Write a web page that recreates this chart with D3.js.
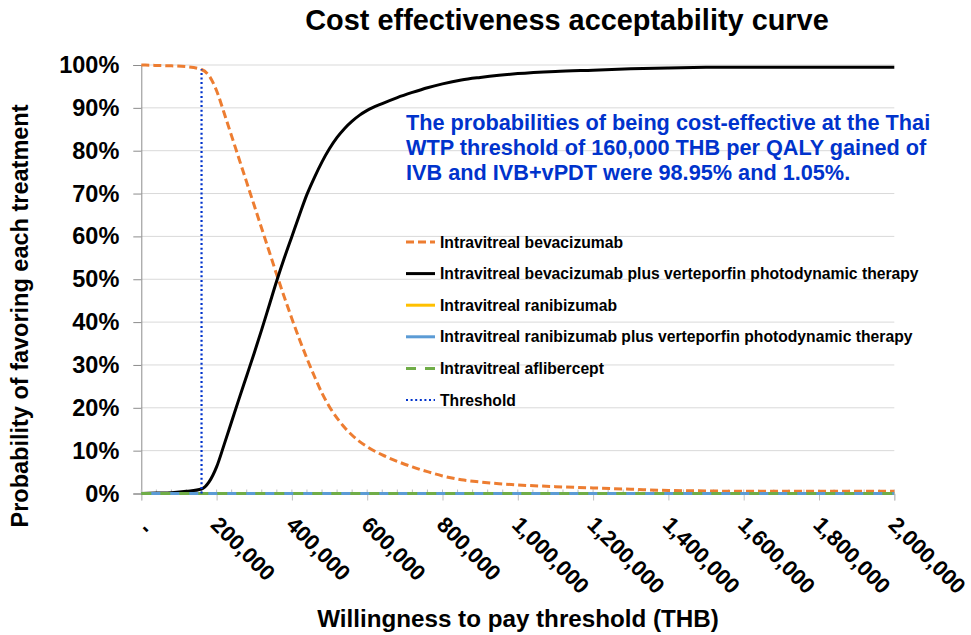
<!DOCTYPE html>
<html>
<head>
<meta charset="utf-8">
<script src="https://cdn.jsdelivr.net/npm/d3@7/dist/d3.min.js"></script>
<style>
    body { margin: 0; background: #fff; }
    svg { font-family: "Liberation Sans", Arial, sans-serif; font-weight: bold; }
</style>
</head>
<body>
<svg id="chart" width="971" height="635"></svg>
<script>
// =========================================================================
// Data
// =========================================================================

// willingness to pay (THB)
const wtp = [0, 40000, 80000, 120000, 160000, 180000, 200000, 220000, 240000, 260000,
    280000, 300000, 320000, 340000, 360000, 380000, 400000, 420000, 440000, 460000,
    480000, 500000, 520000, 540000, 560000, 580000, 600000, 640000, 680000, 720000,
    760000, 800000, 850000, 900000, 950000, 1000000, 1100000, 1200000, 1300000, 1400000,
    1500000, 1600000, 1700000, 1800000, 1900000, 2000000];

const bevacizumab = [1.000, 0.999, 0.998, 0.996, 0.9895, 0.975, 0.940, 0.888, 0.834, 0.780,
    0.726, 0.672, 0.618, 0.564, 0.510, 0.458, 0.408, 0.360, 0.315, 0.273,
    0.234, 0.202, 0.176, 0.154, 0.136, 0.121, 0.109, 0.090, 0.075, 0.062,
    0.051, 0.041, 0.032, 0.027, 0.023, 0.020, 0.016, 0.013, 0.010, 0.007,
    0.006, 0.005, 0.005, 0.005, 0.005, 0.005];

const bevacizumabPdt = [0.000, 0.001, 0.002, 0.005, 0.0105, 0.027, 0.062, 0.114, 0.168, 0.222,
    0.275, 0.328, 0.383, 0.440, 0.497, 0.550, 0.600, 0.650, 0.698, 0.738,
    0.774, 0.805, 0.831, 0.852, 0.869, 0.883, 0.894, 0.910, 0.924, 0.936,
    0.947, 0.956, 0.965, 0.971, 0.976, 0.980, 0.985, 0.988, 0.991, 0.993,
    0.9945, 0.995, 0.995, 0.995, 0.995, 0.995];

const ranibizumab = [0, 0, 0, 0, 0, 0, 0, 0, 0, 0, 0, 0, 0, 0, 0, 0, 0, 0, 0, 0, 0, 0, 0,
    0, 0, 0, 0, 0, 0, 0, 0, 0, 0, 0, 0, 0, 0, 0, 0, 0, 0, 0, 0, 0, 0, 0];
const ranibizumabPdt = [0, 0, 0, 0, 0, 0, 0, 0, 0, 0, 0, 0, 0, 0, 0, 0, 0, 0, 0, 0, 0, 0, 0,
    0, 0, 0, 0, 0, 0, 0, 0, 0, 0, 0, 0, 0, 0, 0, 0, 0, 0, 0, 0, 0, 0, 0];
const aflibercept = [0, 0, 0, 0, 0, 0, 0, 0, 0, 0, 0, 0, 0, 0, 0, 0, 0, 0, 0, 0, 0, 0, 0,
    0, 0, 0, 0, 0, 0, 0, 0, 0, 0, 0, 0, 0, 0, 0, 0, 0, 0, 0, 0, 0, 0, 0];

const thresholdX = [160000, 160000];
const thresholdY = [0, 0.99];

const seriesNames = [
    'Intravitreal bevacizumab',
    'Intravitreal bevacizumab plus verteporfin photodynamic therapy',
    'Intravitreal ranibizumab',
    'Intravitreal ranibizumab plus verteporfin photodynamic therapy',
    'Intravitreal aflibercept',
    'Threshold'
];

const xTicks = [0, 200000, 400000, 600000, 800000, 1000000, 1200000, 1400000, 1600000, 1800000, 2000000];
const yTicks = [0, 0.1, 0.2, 0.3, 0.4, 0.5, 0.6, 0.7, 0.8, 0.9, 1.0];

const noteLines = [
    'The probabilities of being cost-effective at the Thai',
    'WTP threshold of 160,000 THB per QALY gained of',
    'IVB and IVB+vPDT were 98.95% and 1.05%.'
];

// =========================================================================
// Chart
// =========================================================================

const svg = d3.select('#chart');
const plot = { left: 141.3, right: 894.3, top: 65, bottom: 493.5 };

const x = d3.scaleLinear().domain([0, 2000000]).range([plot.left, plot.right]);
const y = d3.scaleLinear().domain([0, 1]).range([plot.bottom, plot.top]);

const styles = [
    { color: '#ED7D31', width: 3, dash: '8,4' },
    { color: '#000000', width: 3, dash: null },
    { color: '#FFC000', width: 3, dash: null },
    { color: '#5B9BD5', width: 3, dash: null },
    { color: '#70AD47', width: 3, dash: '10,9' },
    { color: '#0033CC', width: 2.2, dash: '2,2.6' }
];

// gridlines
svg.append('g')
    .selectAll('line')
    .data(yTicks.slice(1))
    .join('line')
    .attr('x1', plot.left).attr('x2', plot.right)
    .attr('y1', d => y(d)).attr('y2', d => y(d))
    .attr('stroke', '#D9D9D9').attr('stroke-width', 1);

// y axis
const yAxis = svg.append('g')
    .attr('transform', `translate(${plot.left},0)`)
    .call(d3.axisLeft(y).tickValues(yTicks).tickFormat(d3.format('.0%')).tickSize(8).tickPadding(14));
yAxis.select('.domain').attr('stroke', '#8C8C8C');
yAxis.selectAll('.tick line').attr('stroke', '#8C8C8C');
yAxis.selectAll('.tick text')
    .attr('font-size', 23.5).attr('font-family', null).attr('fill', '#000');

// x axis: minor ticks every 40,000 and major ticks every 200,000
const minorTicks = d3.range(0, 2000001, 40000);
svg.append('g')
    .selectAll('line')
    .data(minorTicks)
    .join('line')
    .attr('x1', d => x(d)).attr('x2', d => x(d))
    .attr('y1', plot.bottom - 4).attr('y2', plot.bottom)
    .attr('stroke', '#BFBFBF');

const xAxis = svg.append('g')
    .attr('transform', `translate(0,${plot.bottom})`)
    .call(d3.axisBottom(x).tickValues(xTicks).tickSize(7).tickFormat(''));
xAxis.select('.domain').attr('stroke', '#BFBFBF');
xAxis.selectAll('.tick line').attr('stroke', '#BFBFBF');

svg.append('g')
    .selectAll('text')
    .data(xTicks)
    .join('text')
    .attr('transform', d => `translate(${x(d) - 7},526) rotate(45)`)
    .attr('dx', d => d === 0 ? '0.3em' : 0)
    .attr('font-size', 22)
    .text(d => d === 0 ? '-' : d3.format(',')(d));

// series
const line = d3.line()
    .x(d => x(d[0]))
    .y(d => y(d[1]))
    .curve(d3.curveMonotoneX);

const seriesData = [bevacizumab, bevacizumabPdt, ranibizumab, ranibizumabPdt, aflibercept]
    .map(vals => wtp.map((w, i) => [w, vals[i]]));
seriesData.push(thresholdX.map((w, i) => [w, thresholdY[i]]));

svg.append('g')
    .selectAll('path')
    .data(seriesData)
    .join('path')
    .attr('d', line)
    .attr('fill', 'none')
    .attr('stroke', (d, i) => styles[i].color)
    .attr('stroke-width', (d, i) => styles[i].width)
    .attr('stroke-dasharray', (d, i) => styles[i].dash);

// legend
const legend = svg.append('g').attr('transform', 'translate(406,242)');
const rows = legend.selectAll('g')
    .data(seriesNames)
    .join('g')
    .attr('transform', (d, i) => `translate(0,${i * 31.6})`);
rows.append('line')
    .attr('x1', 0).attr('x2', 29)
    .attr('stroke', (d, i) => styles[i].color)
    .attr('stroke-width', (d, i) => styles[i].width)
    .attr('stroke-dasharray', (d, i) => styles[i].dash);
rows.append('text')
    .attr('x', 34).attr('dy', '0.36em')
    .attr('font-size', 15.7)
    .text(d => d);

// annotation
svg.append('text')
    .attr('fill', '#0033CC')
    .attr('font-size', 21.7)
    .selectAll('tspan')
    .data(noteLines)
    .join('tspan')
    .attr('x', 406)
    .attr('y', (d, i) => 130 + i * 25)
    .text(d => d);

// titles
svg.append('text')
    .attr('x', 567).attr('y', 30)
    .attr('text-anchor', 'middle')
    .attr('font-size', 28.9)
    .text('Cost effectiveness acceptability curve');

svg.append('text')
    .attr('x', 518).attr('y', 627)
    .attr('text-anchor', 'middle')
    .attr('font-size', 24.2)
    .text('Willingness to pay threshold (THB)');

svg.append('text')
    .attr('transform', 'translate(28,316) rotate(-90)')
    .attr('text-anchor', 'middle')
    .attr('font-size', 23.5)
    .text('Probability of favoring each treatment');
</script>
</body>
</html>
